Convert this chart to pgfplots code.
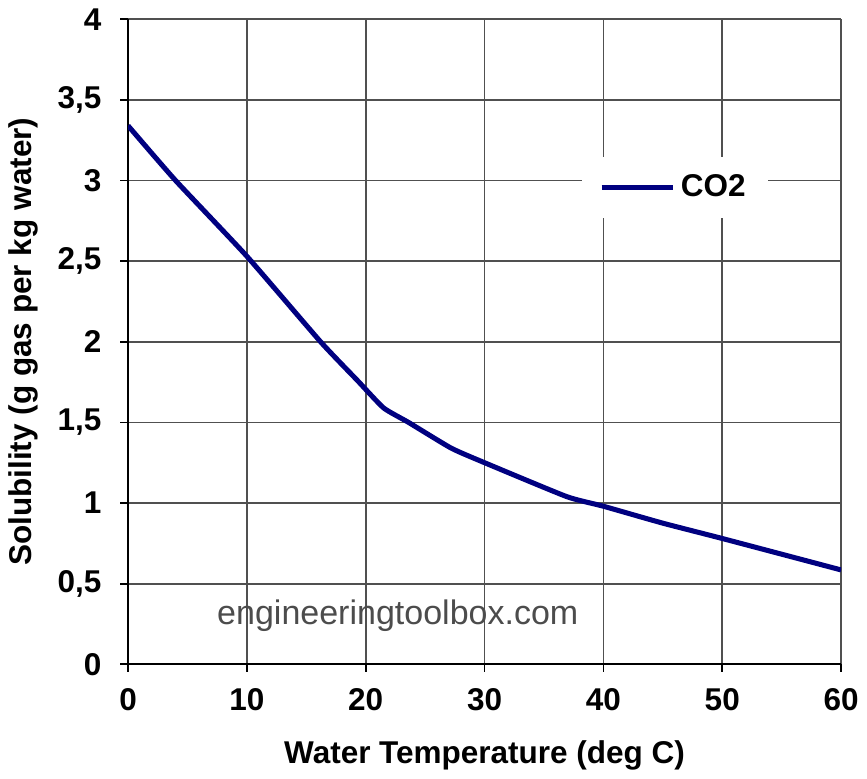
\documentclass[border=0pt]{standalone}
\usepackage{fontspec}
\setmainfont{Liberation Sans}
\usepackage{pgfplots}
\pgfplotsset{compat=1.18}

\definecolor{conavy}{RGB}{0,0,128}
\definecolor{gridc}{RGB}{80,80,80}

\begin{document}
\begin{tikzpicture}
\begin{axis}[
    scale only axis,
    width=283pt, height=256pt,
    xmin=0, xmax=60, ymin=0, ymax=4,
    xtick={0,10,...,60},
    ytick={0,0.5,...,4},
    axis lines=left,
    axis line style={-, black, line width=0.7pt},
    grid=major,
    grid style={gridc, line width=0.7pt},
    tick align=outside,
    major tick length=3pt,
    tick style={black, line width=0.7pt},
    /pgf/number format/assume math mode=true,
    /pgf/number format/use comma,
    /pgf/number format/fixed,
    ticklabel style={font=\bfseries\fontsize{12.5}{14}\selectfont},
    xticklabel style={yshift=-3pt},
    yticklabel style={xshift=-4pt},
    xlabel={\bfseries Water Temperature (deg C)},
    ylabel={\bfseries Solubility (g gas per kg water)},
    label style={font=\bfseries\fontsize{12.5}{14}\selectfont},
    xlabel style={yshift=-5pt},
    ylabel style={yshift=1pt},
    legend style={
        at={(0.767,0.739)}, anchor=center,
        draw=none, fill=white,
        font=\bfseries\fontsize{12.5}{14}\selectfont,
        inner xsep=7pt, inner ysep=5pt,
    },
    legend cell align=left,
    legend image code/.code={\draw[#1] (0cm,0cm) -- (1.0cm,0cm);},
]
\addplot[conavy, line width=2pt, line join=round, smooth, tension=0.3] coordinates {
    (0,3.34)
    (4,3.00)
    (10,2.53)
    (16.2,2.00)
    (19.3,1.76)
    (21.5,1.59)
    (23.6,1.50)
    (27.2,1.34)
    (30,1.25)
    (36.9,1.04)
    (40,0.98)
    (45,0.875)
    (50,0.78)
    (60,0.585)
};
\addlegendentry{CO2}
\node[text=black!70, font=\fontsize{13.5}{15}\selectfont] at (axis cs:22.7,0.30) {engineeringtoolbox.com};
\end{axis}
\end{tikzpicture}
\end{document}
